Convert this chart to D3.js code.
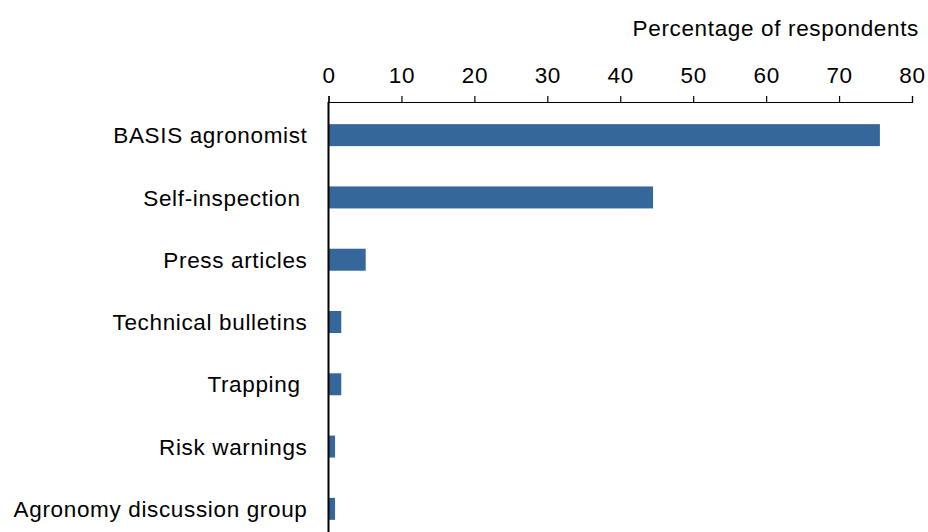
<!DOCTYPE html>
<html>
<head>
<meta charset="utf-8">
<script src="https://cdn.jsdelivr.net/npm/d3@7"></script>
<style>
  body { margin: 0; background: #fff; }
  svg text { font-family: "Liberation Sans", Arial, sans-serif; fill: #000; white-space: pre; }
</style>
</head>
<body>
<svg id="chart" width="928" height="532"></svg>
<script>
// Sources of information used by respondents
const categories = [
  "BASIS agronomist",
  "Self-inspection ",
  "Press articles",
  "Technical bulletins",
  "Trapping ",
  "Risk warnings",
  "Agronomy discussion group"
];
const values = [75.6, 44.5, 5.1, 1.75, 1.75, 0.9, 0.9];
const xTicks = [0, 10, 20, 30, 40, 50, 60, 70, 80];
const axisTitle = "Percentage of respondents";

const svg = d3.select("#chart");
const fontSize = 22.5;
const spacing = "0.65px";

const x = d3.scaleLinear().domain([0, 80]).range([328.5, 912]);
const y = d3.scaleBand()
  .domain(categories)
  .range([104, 540])
  .paddingInner(0.647)
  .paddingOuter(0.3235);

const axisY = 102;

// bars
svg.append("g")
  .selectAll("rect")
  .data(values)
  .join("rect")
  .attr("x", x(0))
  .attr("y", (d, i) => y(categories[i]))
  .attr("width", d => x(d) - x(0))
  .attr("height", y.bandwidth())
  .attr("fill", "#35679a");

// top value axis
const xAxis = svg.append("g")
  .attr("transform", `translate(0,${axisY})`)
  .call(d3.axisTop(x).tickValues(xTicks).tickSize(6).tickSizeOuter(6).tickPadding(13));
xAxis.select(".domain").attr("stroke", "#000").attr("stroke-width", 1.2);
xAxis.selectAll(".tick line").attr("stroke", "#000").attr("stroke-width", 1.2);
xAxis.selectAll(".tick text")
  .style("font-size", fontSize + "px")
  .style("letter-spacing", spacing)
  .style("font-family", "'Liberation Sans', Arial, sans-serif")
  .attr("fill", "#000");

// category axis
const yAxis = svg.append("g")
  .attr("transform", `translate(${x(0)},0)`)
  .call(d3.axisLeft(y).tickSize(0).tickPadding(21));
yAxis.select(".domain").attr("d", `M0,${axisY}V532`).attr("stroke", "#000").attr("stroke-width", 2);
yAxis.selectAll(".tick text")
  .style("font-size", fontSize + "px")
  .style("letter-spacing", spacing)
  .style("font-family", "'Liberation Sans', Arial, sans-serif")
  .attr("dy", "0.36em")
  .attr("fill", "#000");

// axis title
svg.append("text")
  .attr("x", 919)
  .attr("y", 36)
  .attr("text-anchor", "end")
  .style("font-size", fontSize + "px")
  .style("letter-spacing", spacing)
  .text(axisTitle);
</script>
</body>
</html>
